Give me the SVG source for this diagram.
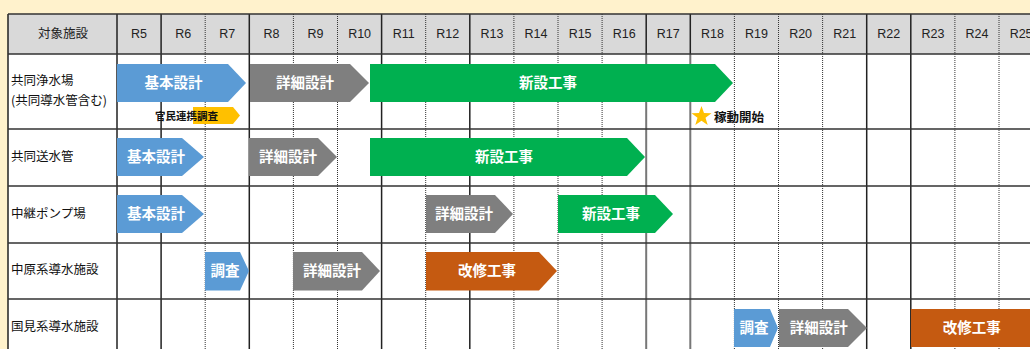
<svg xmlns="http://www.w3.org/2000/svg" width="1030" height="349" viewBox="0 0 1030 349">
<style>
.hdr{font-family:"Liberation Sans",Arial,sans-serif;font-size:12.5px;fill:#222;text-anchor:middle}
.hdrj{font-family:"Noto Sans CJK JP",sans-serif;font-size:12.5px;fill:#222;text-anchor:middle}
.lbl{font-family:"Noto Sans CJK JP",sans-serif;font-size:12.5px;fill:#111}
.bt{font-family:"Noto Sans CJK JP",sans-serif;font-size:14.5px;font-weight:700;fill:#fff;text-anchor:middle}
.note{font-family:"Noto Sans CJK JP",sans-serif;font-weight:700;fill:#111}
.solid{stroke:#222;stroke-width:1.5;fill:none}
.gsolid{stroke:#777;stroke-width:2;fill:none}
.dot{stroke:#333;stroke-width:1;stroke-dasharray:1 1;fill:none}
.hl{stroke:#333;stroke-width:1.6;fill:none}
.blue{fill:#5B9BD5}
.gray{fill:#7F7F7F}
.green{fill:#00B050}
.orange{fill:#C55A11}
.yellow{fill:#FFC000}
</style>
<rect width="1030" height="349" fill="#FFF2CC"/>
<g id="table">
<rect x="8" y="14" width="1030" height="340" fill="#FFFFFF"/>
<rect x="8" y="14" width="1030" height="40" fill="#D9D9D9"/>
</g>
<g id="grid">
<path class="solid" d="M8 14V349M117 14V349M161.1 14V349M249.3 14V349M381.6 14V349M469.8 14V349M866.7 14V349M910.8 14V349"/>
<path class="solid" d="M646.2 14V54M690.3 14V54"/>
<path class="gsolid" d="M646.2 54V349M690.3 54V349"/>
<path class="dot" d="M205.2 14V349M293.4 14V349M337.5 14V349M425.7 14V349M513.9 14V349M558 14V349M602.1 14V349M734.4 14V349M778.5 14V349M822.6 14V349M954.9 14V349M999 14V349"/>
<path class="hl" d="M8 14H1030M8 54H1030M8 129H1030M8 186H1030M8 243H1030M8 299H1030"/>
</g>
<g id="header">
<text class="hdrj" x="63" y="38">対象施設</text>
<text class="hdr" x="139" y="38">R5</text>
<text class="hdr" x="183.2" y="38">R6</text>
<text class="hdr" x="227.3" y="38">R7</text>
<text class="hdr" x="271.4" y="38">R8</text>
<text class="hdr" x="315.5" y="38">R9</text>
<text class="hdr" x="359.6" y="38">R10</text>
<text class="hdr" x="403.7" y="38">R11</text>
<text class="hdr" x="447.8" y="38">R12</text>
<text class="hdr" x="491.9" y="38">R13</text>
<text class="hdr" x="536" y="38">R14</text>
<text class="hdr" x="580.1" y="38">R15</text>
<text class="hdr" x="624.2" y="38">R16</text>
<text class="hdr" x="668.3" y="38">R17</text>
<text class="hdr" x="712.4" y="38">R18</text>
<text class="hdr" x="756.5" y="38">R19</text>
<text class="hdr" x="800.6" y="38">R20</text>
<text class="hdr" x="844.7" y="38">R21</text>
<text class="hdr" x="888.8" y="38">R22</text>
<text class="hdr" x="932.9" y="38">R23</text>
<text class="hdr" x="977" y="38">R24</text>
<text class="hdr" x="1021.1" y="38">R25</text>
</g>
<g id="row1">
<text class="lbl" x="11" y="85">共同浄水場</text>
<text class="lbl" x="11" y="105">(共同導水管含む)</text>
<g id="r1-kihon"><path class="blue" d="M117 64H228L246 83L228 102H117Z"/><text class="bt" x="173.5" y="88.2">基本設計</text></g>
<g id="r1-shosai"><path class="gray" d="M250 64H350L369 83L350 102H250Z"/><text class="bt" x="305" y="88.2">詳細設計</text></g>
<g id="r1-shinsetsu"><path class="green" d="M370 64H715L733 83L715 102H370Z"/><text class="bt" x="548" y="88.2">新設工事</text></g>
<g id="r1-kanmin"><path class="yellow" d="M193 107H233L240 115.5L233 124H193Z"/><text class="note" x="155" y="119.8" font-size="10.5">官民連携調査</text></g>
<g id="r1-kado"><path class="yellow" d="M701.5 106L704 113.1L711.5 113.3L705.5 117.8L707.7 125L701.5 120.7L695.3 125L697.5 117.8L691.5 113.3L699 113.1Z"/><text class="note" x="714" y="121.5" font-size="12.5">稼動開始</text></g>
</g>
<g id="row2">
<text class="lbl" x="11" y="160.5">共同送水管</text>
<g id="r2-kihon"><path class="blue" d="M117 138H182L204 157L182 176H117Z"/><text class="bt" x="156" y="162.2">基本設計</text></g>
<g id="r2-shosai"><path class="gray" d="M249 138H318L337 157L318 176H249Z"/><text class="bt" x="288" y="162.2">詳細設計</text></g>
<g id="r2-shinsetsu"><path class="green" d="M370 138H627L645 157L627 176H370Z"/><text class="bt" x="504" y="162.2">新設工事</text></g>
</g>
<g id="row3">
<text class="lbl" x="11" y="217.5">中継ポンプ場</text>
<g id="r3-kihon"><path class="blue" d="M117 195H182L204 214L182 233H117Z"/><text class="bt" x="156" y="219.2">基本設計</text></g>
<g id="r3-shosai"><path class="gray" d="M426 195H495L513 214L495 233H426Z"/><text class="bt" x="464" y="219.2">詳細設計</text></g>
<g id="r3-shinsetsu"><path class="green" d="M558 195H655L673 214L655 233H558Z"/><text class="bt" x="611" y="219.2">新設工事</text></g>
</g>
<g id="row4">
<text class="lbl" x="11" y="273.5">中原系導水施設</text>
<g id="r4-chosa"><path class="blue" d="M205 252H240L249 271L240 290.5H205Z"/><text class="bt" x="225" y="276.2">調査</text></g>
<g id="r4-shosai"><path class="gray" d="M293 252H362L380 271L362 290.5H293Z"/><text class="bt" x="332" y="276.2">詳細設計</text></g>
<g id="r4-kaishu"><path class="orange" d="M426 252H539L557 271L539 290.5H426Z"/><text class="bt" x="487" y="276.2">改修工事</text></g>
</g>
<g id="row5">
<text class="lbl" x="11" y="331">国見系導水施設</text>
<g id="r5-chosa"><path class="blue" d="M734 309H770L778 328L770 347H734Z"/><text class="bt" x="754" y="333">調査</text></g>
<g id="r5-shosai"><path class="gray" d="M779 309H848L867 328L848 347H779Z"/><text class="bt" x="818.7" y="333">詳細設計</text></g>
<g id="r5-kaishu"><path class="orange" d="M911 309H1040V347H911Z"/><text class="bt" x="971.7" y="333">改修工事</text></g>
</g>
</svg>
